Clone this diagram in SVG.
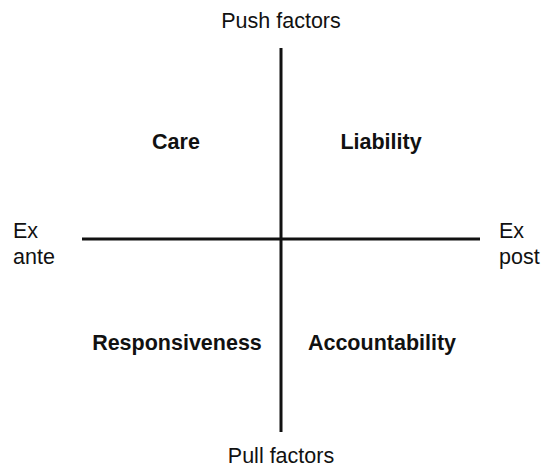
<svg xmlns="http://www.w3.org/2000/svg" width="542" height="468" viewBox="0 0 542 468">
<style>
.t{font-family:"Liberation Sans",Arial,sans-serif;font-size:21.5px;fill:#111}
.b{font-weight:bold;text-anchor:middle}
.ax{stroke:#111;stroke-width:3;fill:none}
</style>
<rect width="542" height="468" fill="#fff"/>
<g id="connectors">
<line class="ax" x1="281" y1="48" x2="281" y2="432"/>
<line class="ax" x1="82" y1="239" x2="480" y2="239"/>
</g>
<g id="push"><text class="t" x="281" y="28" text-anchor="middle">Push factors</text></g>
<g id="pull"><text class="t" x="281" y="463" text-anchor="middle">Pull factors</text></g>
<g id="exante"><text class="t" x="13" y="238">Ex</text><text class="t" x="13" y="264">ante</text></g>
<g id="expost"><text class="t" x="499" y="238">Ex</text><text class="t" x="499" y="264">post</text></g>
<g id="care"><text class="t b" x="176" y="149">Care</text></g>
<g id="liability"><text class="t b" x="381" y="149">Liability</text></g>
<g id="responsiveness"><text class="t b" x="177" y="350">Responsiveness</text></g>
<g id="accountability"><text class="t b" x="382" y="350">Accountability</text></g>
</svg>
